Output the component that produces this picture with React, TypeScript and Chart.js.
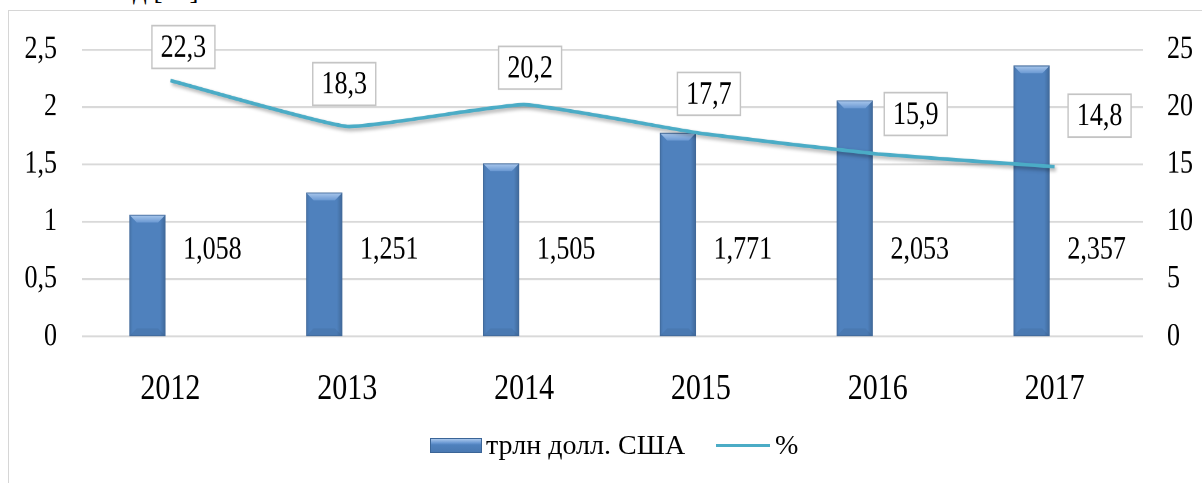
import { useEffect, useRef } from 'react';
import { Chart, registerables } from 'chart.js';

Chart.register(...registerables);

// ---- data ----
const years = ['2012', '2013', '2014', '2015', '2016', '2017'];
const volumeTrillionUSD = [1.058, 1.251, 1.505, 1.771, 2.053, 2.357];
const sharePercent = [22.3, 18.3, 20.2, 17.7, 15.9, 14.8];
const leftTickLabels = ['0', '0,5', '1', '1,5', '2', '2,5'];
const rightTickLabels = ['0', '5', '10', '15', '20', '25'];
const seriesNames = ['трлн долл. США', '%'];

// ---- layout (label placement, not data) ----
const lineLabelShift = [
  [13, -27.5],
  [-3, -34.8],
  [6, -30.3],
  [8, -32.4],
  [38, -32.8],
  [45, -41.8],
];

const W = 1202;
const H_SCREEN = 483;
const H = 396; // logical canvas height, stretched vertically to 483px
const SERIF = '"Liberation Serif", "Times New Roman", serif';

const fmtComma = (v: number, d: number) => v.toFixed(d).replace('.', ',');

export default function App() {
  const ref = useRef<HTMLCanvasElement | null>(null);

  useEffect(() => {
    const canvas = ref.current;
    if (!canvas) return;

    const barBevel = {
      id: 'barBevel',
      afterDatasetDraw(chart: any, args: any) {
        if (args.index !== 1) return;
        const ctx = chart.ctx;
        const meta = chart.getDatasetMeta(1);
        meta.data.forEach((bar: any) => {
          const { x, y, base, width } = bar.getProps(['x', 'y', 'base', 'width'], true);
          const l = x - width / 2;
          const r = x + width / 2;
          const t = y;
          const B = base;
          const bx = 7;
          const by = 6;
          ctx.save();
          // right edge shade
          const gr = ctx.createLinearGradient(r - 5, 0, r, 0);
          gr.addColorStop(0, 'rgba(0,0,0,0)');
          gr.addColorStop(1, 'rgba(0,0,0,0.18)');
          ctx.fillStyle = gr;
          ctx.fillRect(r - 5, t, 5, B - t);
          // left edge shade
          const gl = ctx.createLinearGradient(l, 0, l + 3, 0);
          gl.addColorStop(0, 'rgba(0,0,0,0.1)');
          gl.addColorStop(1, 'rgba(0,0,0,0)');
          ctx.fillStyle = gl;
          ctx.fillRect(l, t, 3, B - t);
          // bottom
          ctx.beginPath();
          ctx.moveTo(l, B);
          ctx.lineTo(r, B);
          ctx.lineTo(r - bx, B - by);
          ctx.lineTo(l + bx, B - by);
          ctx.closePath();
          ctx.fillStyle = 'rgba(0,0,0,0.06)';
          ctx.fill();
          // top
          const g = ctx.createLinearGradient(0, t, 0, t + by);
          g.addColorStop(0, '#a9c7ec');
          g.addColorStop(1, '#6b99d3');
          ctx.beginPath();
          ctx.moveTo(l, t);
          ctx.lineTo(r, t);
          ctx.lineTo(r - bx, t + by);
          ctx.lineTo(l + bx, t + by);
          ctx.closePath();
          ctx.fillStyle = g;
          ctx.fill();
          // outline
          ctx.strokeStyle = '#41699a';
          ctx.lineWidth = 0.8;
          ctx.strokeRect(l, t, r - l, B - t);
          ctx.restore();
        });
      },
    };

    const lineShadow = {
      id: 'lineShadow',
      beforeDatasetDraw(chart: any, args: any) {
        if (args.index !== 0) return;
        const ctx = chart.ctx;
        ctx.save();
        ctx.shadowColor = 'rgba(0,0,0,0.35)';
        ctx.shadowBlur = 6;
        ctx.shadowOffsetX = 3;
        ctx.shadowOffsetY = 4;
      },
      afterDatasetDraw(chart: any, args: any) {
        if (args.index !== 0) return;
        chart.ctx.restore();
      },
    };

    const valueLabels = {
      id: 'valueLabels',
      afterDatasetsDraw(chart: any) {
        const ctx = chart.ctx;
        const xs = chart.scales.x;
        const ys = chart.scales.y;
        ctx.save();
        ctx.font = `26px ${SERIF}`;
        ctx.fillStyle = '#000';
        ctx.textAlign = 'center';
        ctx.textBaseline = 'middle';
        // bar value labels, right of each bar
        volumeTrillionUSD.forEach((v, i) => {
          const x = xs.getPixelForValue(i) + 42;
          const y = ys.getPixelForValue(0.75);
          ctx.fillText(fmtComma(v, 3), x, y);
        });
        // line value labels in boxes
        const meta = chart.getDatasetMeta(0);
        sharePercent.forEach((v, i) => {
          const pt = meta.data[i];
          const cx = pt.x + lineLabelShift[i][0];
          const cy = pt.y + lineLabelShift[i][1];
          const bw = 63;
          const bh = 35;
          ctx.fillStyle = '#fff';
          ctx.fillRect(cx - bw / 2, cy - bh / 2, bw, bh);
          ctx.strokeStyle = '#c4c4c4';
          ctx.lineWidth = 1.4;
          ctx.strokeRect(cx - bw / 2, cy - bh / 2, bw, bh);
          ctx.fillStyle = '#000';
          ctx.fillText(fmtComma(v, 1), cx, cy + 1);
        });
        ctx.restore();
      },
    };

    const chart = new Chart(canvas, {
      type: 'bar',
      data: {
        labels: years,
        datasets: [
          {
            type: 'line',
            label: seriesNames[1],
            data: sharePercent,
            yAxisID: 'y1',
            borderColor: '#4BACC6',
            borderWidth: 3,
            tension: 0.12,
            pointRadius: 0,
            fill: false,
            order: 0,
          } as any,
          {
            type: 'bar',
            label: seriesNames[0],
            data: volumeTrillionUSD,
            yAxisID: 'y',
            backgroundColor: '#4F81BD',
            borderWidth: 0,
            categoryPercentage: 0.52,
            barPercentage: 0.77,
            order: 1,
          },
          {
            type: 'bar',
            label: '',
            data: years.map(() => null),
            yAxisID: 'y',
            backgroundColor: 'rgba(0,0,0,0)',
            categoryPercentage: 0.52,
            barPercentage: 0.77,
            order: 1,
          },
        ],
      },
      options: {
        responsive: false,
        animation: false,
        devicePixelRatio: 2,
        layout: { padding: { top: 35, left: 0, right: 0, bottom: 0 } },
        plugins: {
          legend: { display: false },
          tooltip: { enabled: false },
          title: { display: false },
        },
        scales: {
          x: {
            grid: { display: false },
            border: { display: false },
            ticks: {
              font: { family: SERIF, size: 30 },
              color: '#000',
              padding: 17,
              maxRotation: 0,
              autoSkip: false,
            },
            afterFit: (s: any) => {
              s.height = 120;
            },
          },
          y: {
            position: 'left',
            min: 0,
            max: 2.5,
            ticks: {
              stepSize: 0.5,
              callback: (_v: any, i: number) => leftTickLabels[i],
              font: { family: SERIF, size: 26 },
              color: '#000',
              padding: 25,
            },
            grid: { color: '#d9d9d9', lineWidth: 1.6, drawTicks: false },
            border: { display: false },
            afterFit: (s: any) => {
              s.width = 82;
            },
          },
          y1: {
            position: 'right',
            min: 0,
            max: 25,
            ticks: {
              stepSize: 5,
              callback: (_v: any, i: number) => rightTickLabels[i],
              font: { family: SERIF, size: 26 },
              color: '#000',
              padding: 24,
            },
            grid: { drawOnChartArea: false, drawTicks: false },
            border: { display: false },
            afterFit: (s: any) => {
              s.width = 59;
            },
          },
        },
      } as any,
      plugins: [barBevel, lineShadow, valueLabels],
    });

    return () => chart.destroy();
  }, []);

  return (
    <div
      style={{
        position: 'fixed',
        left: 0,
        top: 0,
        width: W,
        height: H_SCREEN,
        overflow: 'hidden',
        background: '#fff',
        fontFamily: SERIF,
      }}
    >
      <div
        style={{
          position: 'absolute',
          left: 133,
          top: -23,
          fontSize: 27,
          lineHeight: '27px',
          color: '#000',
          whiteSpace: 'nowrap',
        }}
      >
        д [13]
      </div>
      <div
        style={{
          position: 'absolute',
          left: 8,
          top: 10,
          width: 1400,
          height: 800,
          border: '1.5px solid #d6d6d6',
        }}
      />
      <canvas
        ref={ref}
        width={W}
        height={H}
        style={{ position: 'absolute', left: 0, top: 0, width: W, height: H_SCREEN, display: 'block' }}
      />
      <div
        style={{
          position: 'absolute',
          left: 430,
          top: 438,
          width: 52,
          height: 15,
          boxSizing: 'border-box',
          border: '1px solid #3b6597',
          background: 'linear-gradient(#a9c7ec 0%, #6b99d3 30%, #4F81BD 45%, #4a79b2 100%)',
        }}
      />
      <div
        style={{
          position: 'absolute',
          left: 486,
          top: 430,
          fontSize: 28,
          lineHeight: '30px',
          color: '#000',
          whiteSpace: 'nowrap',
        }}
      >
        {seriesNames[0]}
      </div>
      <div
        style={{
          position: 'absolute',
          left: 716,
          top: 444,
          width: 54,
          height: 3,
          background: '#4BACC6',
        }}
      />
      <div
        style={{
          position: 'absolute',
          left: 775,
          top: 430,
          fontSize: 28,
          lineHeight: '30px',
          color: '#000',
          whiteSpace: 'nowrap',
        }}
      >
        {seriesNames[1]}
      </div>
    </div>
  );
}
